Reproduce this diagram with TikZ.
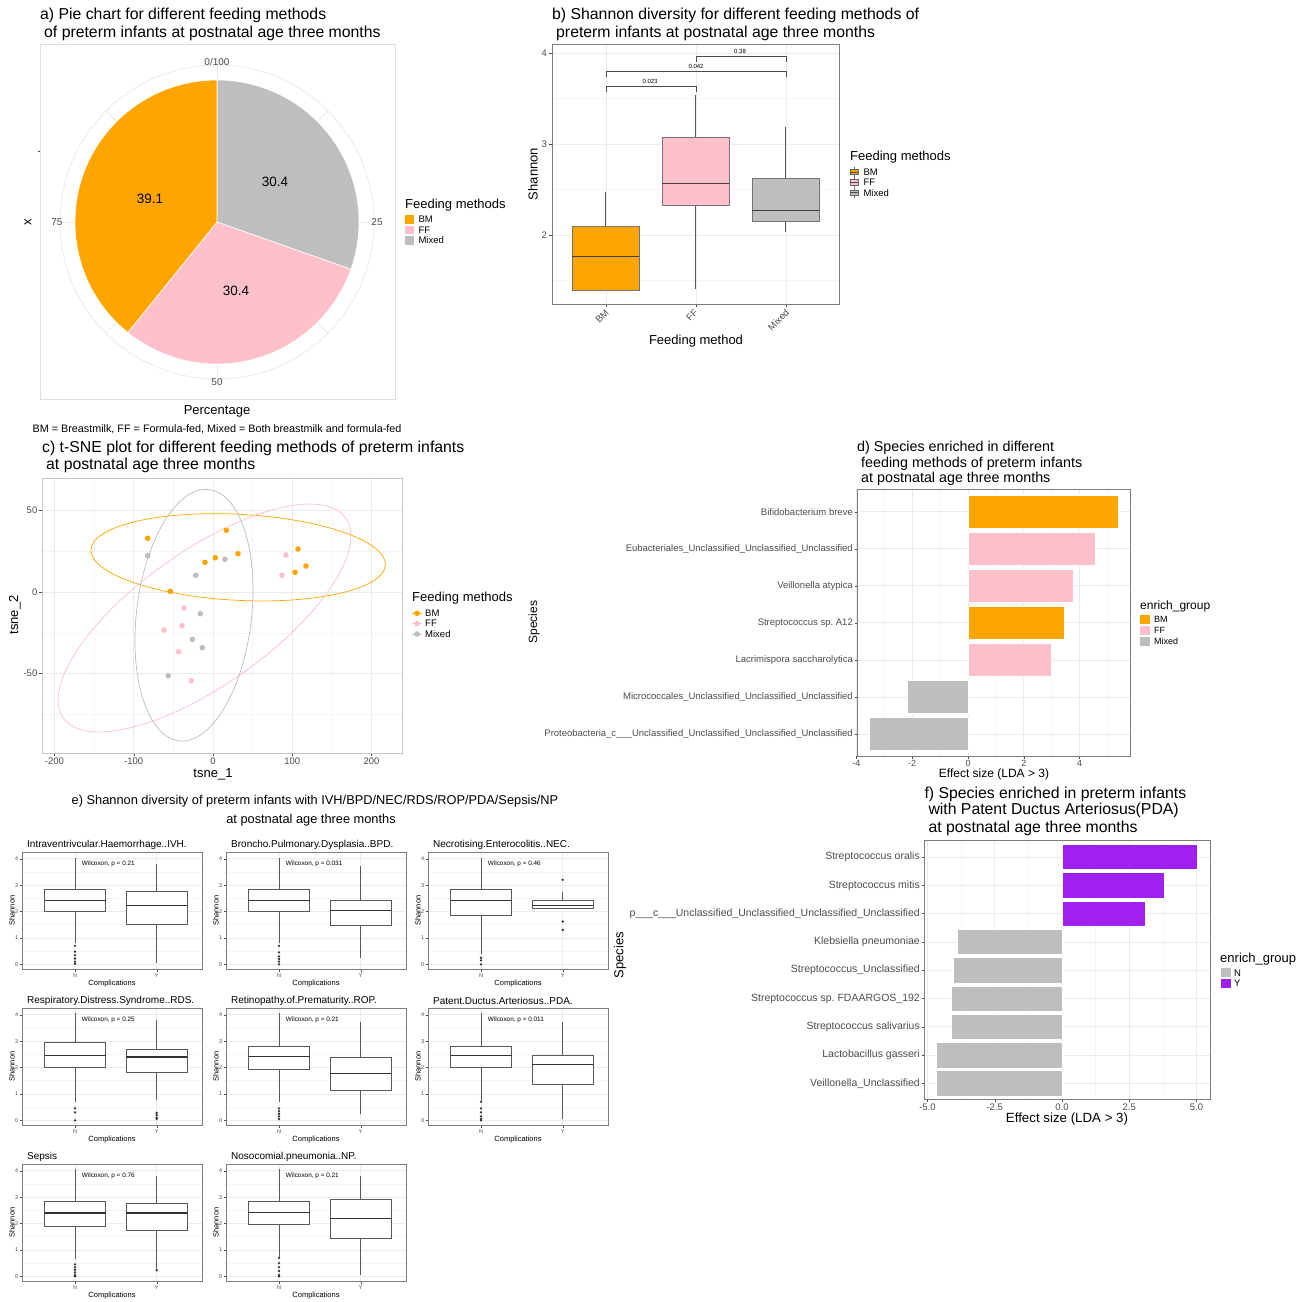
\documentclass[tikz,border=0pt]{standalone}
\usepackage{fontspec}
\setmainfont{Liberation Sans}
\usetikzlibrary{calc}
\definecolor{bmorange}{RGB}{255,165,0}
\definecolor{ffpink}{RGB}{255,192,203}
\definecolor{mixgray}{RGB}{190,190,190}
\definecolor{ypurple}{RGB}{160,32,240}
\definecolor{gridgray}{RGB}{235,235,235}
\definecolor{minorgray}{RGB}{245,245,245}
\definecolor{axistext}{RGB}{77,77,77}
\definecolor{framegray}{RGB}{125,125,125}
\newcommand\fsz[1]{\fontsize{#1}{#1}\selectfont}
\newcommand\eplot[5]{%
\begin{scope}[shift={(#1)}]
  \foreach \v in {0.5,1.5,2.5,3.5} \draw[minor] (0,{112.3-26.4*\v}) -- (180,{112.3-26.4*\v});
  \foreach \v in {0,...,4} {
    \draw[major] (0,{112.3-26.4*\v}) -- (180,{112.3-26.4*\v});
    \draw[axistext] (-2.5,{112.3-26.4*\v}) -- (0,{112.3-26.4*\v});
    \node[etick, anchor=east] at (-3.5,{112.3-26.4*\v}) {\v};
  }
  \foreach \cx/\lab in {53/N,134.7/Y} {
    \draw[major] (\cx,0) -- (\cx,117);
    \draw[axistext] (\cx,117) -- (\cx,119.5);
    \node[etick] at (\cx,124) {\lab};
  }
  \foreach \cx/\lo/\qa/\md/\qb/\hi in {#4} {
    \draw[whisk] (\cx,{112.3-26.4*\lo}) -- (\cx,{112.3-26.4*\hi});
    \filldraw[fill=white, draw=black!65, line width=0.7pt] ({\cx-30.5},{112.3-26.4*\qa}) rectangle ({\cx+30.5},{112.3-26.4*\qb});
    \draw[black!80, line width=1.1pt] ({\cx-30.5},{112.3-26.4*\md}) -- ({\cx+30.5},{112.3-26.4*\md});
  }
  \foreach \cx/\v in {#5} \fill[black!80] (\cx,{112.3-26.4*\v}) circle[radius=1.3];
  \draw[frame] (0,0) rectangle (180,117);
  \node[etitle] (etitle) at (5,-7.5) {#2};
  \node[ewil] (ewil) at (59.7,12) {Wilcoxon, p = #3};
  \node[eaxis] (exlab) at (90,132) {Complications};
  \node[eaxis, rotate=90] (eylab) at (-10,58.5) {Shannon};
\end{scope}}

\begin{document}
\begin{tikzpicture}[x=1pt, y=-1pt,
    ttl/.style={anchor=west, inner sep=0, font=\fsz{15.8}},
    subttl/.style={anchor=west, inner sep=0, font=\fsz{14.3}},
    axttl/.style={inner sep=0, font=\fsz{13}},
    tick/.style={inner sep=0, text=axistext, font=\fsz{9}},
    legttl/.style={anchor=west, inner sep=0, font=\fsz{13}},
    legtxt/.style={anchor=west, inner sep=0, font=\fsz{9.5}},
    frame/.style={draw=framegray, line width=0.8pt},
    major/.style={draw=gridgray, line width=0.8pt},
    minor/.style={draw=minorgray, line width=0.5pt},
    whisk/.style={draw=black!65, line width=0.7pt},
    pval/.style={inner sep=0, font=\fsz{6}},
    etitle/.style={anchor=west, inner sep=0, font=\fsz{10}},
    ewil/.style={anchor=west, inner sep=0, font=\fsz{6.4}},
    etick/.style={inner sep=0, text=axistext, font=\fsz{5.5}},
    eaxis/.style={inner sep=0, font=\fsz{7.5}},
    splab/.style={anchor=east, inner sep=0, text=axistext, font=\fsz{#1}},
    slice/.style={draw=white, line width=0.6pt}
]
\useasboundingbox (0,0) rectangle (1311,1301);
\fill[white] (0,0) rectangle (1311,1301);

\node[ttl] (ttlA) at (40,15) {a) Pie chart for different feeding methods};
\node[ttl] (ttlA2) at (44,33) {of preterm infants at postnatal age three months};
\draw[draw=gray!25, line width=0.8pt] (40,44) rectangle (395,399);
\coordinate (pieO) at (217,222);
\begin{scope}[shift={(pieO)}, y=1pt]
  \foreach \a in {0,45,...,315} \draw[major] (0,0) -- (\a:157);
  \draw[major] (0,0) circle[radius=157];
  \filldraw[fill=mixgray, slice] (0,0) -- (90:142) arc[start angle=90, end angle=-19.44, radius=142] -- cycle;
  \filldraw[fill=ffpink, slice] (0,0) -- (-19.44:142) arc[start angle=-19.44, end angle=-128.88, radius=142] -- cycle;
  \filldraw[fill=bmorange, slice] (0,0) -- (-128.88:142) arc[start angle=-128.88, end angle=-270, radius=142] -- cycle;
\end{scope}
\node[inner sep=0, font=\fsz{13.5}] (pctBM) at (150,199) {39.1};
\node[inner sep=0, font=\fsz{13.5}] (pctMix) at (275,182) {30.4};
\node[inner sep=0, font=\fsz{13.5}] (pctFF) at (236,291) {30.4};
\node[tick, font=\fsz{10}] (th0) at (217,62) {0/100};
\node[tick, font=\fsz{10}] (th25) at (377,222) {25};
\node[tick, font=\fsz{10}] (th50) at (217,382) {50};
\node[tick, font=\fsz{10}] (th75) at (57,222) {75};
\draw[axistext] (37.5,151) -- (40,151);
\node[axttl, rotate=90] (xlabA) at (28,222) {x};
\node[axttl] (pctlab) at (217,411) {Percentage};
\node[inner sep=0, font=\fsz{10.8}] (note) at (217,429) {BM = Breastmilk, FF = Formula-fed, Mixed = Both breastmilk and formula-fed};
\node[legttl] (legA) at (405,205) {Feeding methods};
\foreach \yy/\col/\lab in {219.7/bmorange/BM, 230/ffpink/FF, 240.3/mixgray/Mixed} {
  \fill[\col] (405,\yy-4.3) rectangle (414.3,\yy+4.3);
  \node[legtxt] at (418.3,\yy) {\lab};
}

\node[ttl] (ttlB) at (552,15) {b) Shannon diversity for different feeding methods of};
\node[ttl] (ttlB2) at (556,33) {preterm infants at postnatal age three months};
\foreach \v in {1.5,2.5,3.5} \draw[minor] (552,{417-91*\v}) -- (839,{417-91*\v});
\foreach \v in {2,3,4} {
  \draw[major] (552,{417-91*\v}) -- (839,{417-91*\v});
  \draw[axistext] (549,{417-91*\v}) -- (552,{417-91*\v});
  \node[tick, anchor=east, font=\fsz{9.5}] at (547,{417-91*\v}) {\v};
}
\foreach \cx in {606,696,786} {
  \draw[major] (\cx,44) -- (\cx,304);
  \draw[axistext] (\cx,304) -- (\cx,307);
}
\foreach \cx/\lo/\qa/\md/\qb/\hi/\col in {605.5/1.38/1.39/1.76/2.1/2.47/bmorange, 695.5/1.41/2.32/2.57/3.07/3.54/ffpink, 785.5/2.03/2.15/2.27/2.62/3.19/mixgray} {
  \draw[whisk] (\cx,{417-91*\lo}) -- (\cx,{417-91*\hi});
  \filldraw[fill=\col, draw=black!55, line width=0.8pt] ({\cx-33.5},{417-91*\qa}) rectangle ({\cx+33.5},{417-91*\qb});
  \draw[black!75, line width=1.1pt] ({\cx-33.5},{417-91*\md}) -- ({\cx+33.5},{417-91*\md});
}
\draw[black!70, line width=0.7pt] (606,91.5) -- (606,86) -- (696,86) -- (696,91.5);
\draw[black!70, line width=0.7pt] (606,76.5) -- (606,71) -- (786,71) -- (786,76.5);
\draw[black!70, line width=0.7pt] (696,61.5) -- (696,56) -- (786,56) -- (786,61.5);
\node[pval] (p023) at (650,81) {0.023};
\node[pval] (p042) at (696,66) {0.042};
\node[pval] (p38) at (740,51) {0.38};
\draw[frame] (552,44) rectangle (839,304);
\node[tick, rotate=45, font=\fsz{9.5}] (xbBM) at (602,316.5) {BM};
\node[tick, rotate=45, font=\fsz{9.5}] (xbFF) at (692,315) {FF};
\node[tick, rotate=45, font=\fsz{9.5}] (xbMix) at (778.5,320) {Mixed};
\node[axttl, rotate=90] (ylabB) at (533,174) {Shannon};
\node[axttl] (xlabB) at (696,341) {Feeding method};
\node[legttl] (legB) at (850,157) {Feeding methods};
\foreach \yy/\col/\lab in {172/bmorange/BM, 182.3/ffpink/FF, 192.7/mixgray/Mixed} {
  \draw[black!60, line width=0.5pt] (854,\yy-5) -- (854,\yy+5);
  \filldraw[fill=\col, draw=black!60, line width=0.5pt] (850,\yy-2.7) rectangle (858.3,\yy+2.7);
  \draw[black!70, line width=0.6pt] (850,\yy) -- (858.3,\yy);
  \node[legtxt] at (863.3,\yy) {\lab};
}

\node[ttl] (ttlC) at (42,448) {c) t-SNE plot for different feeding methods of preterm infants};
\node[ttl] (ttlC2) at (46,465) {at postnatal age three months};
\foreach \t in {-150,-50,50,150} \draw[minor] ({213+0.7925*\t},478) -- ({213+0.7925*\t},753);
\foreach \t in {-75,-25,25} \draw[minor] (42,{592-1.633*\t}) -- (402,{592-1.633*\t});
\foreach \t in {-200,-100,0,100,200} {
  \draw[major] ({213+0.7925*\t},478) -- ({213+0.7925*\t},753);
  \draw[axistext] ({213+0.7925*\t},753) -- ({213+0.7925*\t},756);
  \node[tick, font=\fsz{9.5}] at ({213+0.7925*\t},761.5) {\t};
}
\foreach \t in {-50,0,50} {
  \draw[major] (42,{592-1.633*\t}) -- (402,{592-1.633*\t});
  \draw[axistext] (39,{592-1.633*\t}) -- (42,{592-1.633*\t});
  \node[tick, anchor=east, font=\fsz{9.5}] at (37.5,{592-1.633*\t}) {\t};
}
\draw[bmorange, line width=0.7pt, rotate around={-3:(238.2,557.3)}] (238.2,557.3) ellipse[x radius=147.4, y radius=43];
\draw[ffpink, line width=0.7pt, rotate around={35.3:(204.5,618)}] (204.5,618) ellipse[x radius=173, y radius=67];
\draw[mixgray, line width=0.7pt, rotate around={-6.8:(194,615.2)}] (194,615.2) ellipse[x radius=57.5, y radius=126.5];
\foreach \px/\py in {147.7/538.3, 226.3/530.3, 238/553.7, 215.3/557.7, 205/562.3, 170.3/591.3, 298/549, 306/566, 295/572.3}
  \fill[bmorange] (\px,\py) circle[radius=2.8];
\foreach \px/\py in {286/555, 282/575.3, 184/608, 164/630, 182/625.7, 178.7/651.7, 191.3/680.7}
  \fill[ffpink] (\px,\py) circle[radius=2.8];
\foreach \px/\py in {147.7/555.7, 225/559.3, 195.7/575.3, 200.3/613.7, 192.3/639.3, 202.3/647.7, 168.3/675.7}
  \fill[mixgray] (\px,\py) circle[radius=2.8];
\draw[frame, draw=gray!45] (42,478) rectangle (402,753);
\node[axttl] (xlabC) at (213,774) {tsne\_1};
\node[axttl, rotate=90] (ylabC) at (15,615) {tsne\_2};
\node[legttl] (legC) at (412,598.3) {Feeding methods};
\foreach \yy/\col/\lab in {613.3/bmorange/BM, 623.7/ffpink/FF, 634/mixgray/Mixed} {
  \draw[\col, line width=0.7pt] (412,\yy) -- (422,\yy);
  \fill[\col] (417,\yy) circle[radius=2.8];
  \node[legtxt] at (425,\yy) {\lab};
}

\node[subttl] (ttlD) at (857,447.7) {d) Species enriched in different};
\node[subttl] (ttlD2) at (861,463.3) {feeding methods of preterm infants};
\node[subttl] (ttlD3) at (861,478.5) {at postnatal age three months};
\foreach \v in {-3,-1,1,3,5} \draw[minor] ({968+27.9*\v},489) -- ({968+27.9*\v},756);
\foreach \v in {-4,-2,0,2,4} {
  \draw[major] ({968+27.9*\v},489) -- ({968+27.9*\v},756);
  \draw[axistext] ({968+27.9*\v},756) -- ({968+27.9*\v},759);
  \node[tick] at ({968+27.9*\v},763) {\v};
}
\foreach \k/\sp/\val/\col in {
  0/Bifidobacterium breve/5.38/bmorange,
  1/Eubacteriales\_Unclassified\_Unclassified\_Unclassified/4.55/ffpink,
  2/Veillonella atypica/3.76/ffpink,
  3/Streptococcus sp.\ A12/3.44/bmorange,
  4/Lacrimispora saccharolytica/2.98/ffpink,
  5/Micrococcales\_Unclassified\_Unclassified\_Unclassified/-2.19/mixgray,
  6/Proteobacteria\_c\_\_\_Unclassified\_Unclassified\_Unclassified\_Unclassified/-3.55/mixgray} {
  \draw[major] (857,{511.7+37.05*\k}) -- (1130,{511.7+37.05*\k});
  \filldraw[fill=\col, draw=white, line width=0.5pt] (968,{511.7+37.05*\k-16.6}) rectangle ({968+27.9*\val},{511.7+37.05*\k+16.6});
  \draw[axistext] (854.5,{511.7+37.05*\k}) -- (857,{511.7+37.05*\k});
  \node[splab=9.5] at (853,{511.7+37.05*\k}) {\sp};
}
\draw[frame] (857,489) rectangle (1130,756);
\node[axttl, font=\fsz{12}] (xlabD) at (994,774) {Effect size (LDA > 3)};
\node[axttl, font=\fsz{12}, rotate=90] (ylabD) at (534,622) {Species};
\node[legttl, font=\fsz{12}] (legD) at (1140,606.7) {enrich\_group};
\foreach \yy/\col/\lab in {619.5/bmorange/BM, 630.2/ffpink/FF, 641/mixgray/Mixed} {
  \fill[\col] (1140,\yy-4.5) rectangle (1150,\yy+4.5);
  \node[legtxt, font=\fsz{9}] at (1154,\yy) {\lab};
}

\node[inner sep=0, font=\fsz{12.8}] (ttlE) at (315,801) {e) Shannon diversity of preterm infants with IVH/BPD/NEC/RDS/ROP/PDA/Sepsis/NP};
\node[inner sep=0, font=\fsz{12.8}] (ttlE2) at (311,820) {at postnatal age three months};
\eplot{22,852}{Intraventrivcular.Haemorrhage..IVH.}{0.21}{53/0.8/2.0/2.42/2.83/4.02, 134.7/0.05/1.52/2.22/2.75/3.8}{53/0.7, 53/0.48, 53/0.35, 53/0.22, 53/0.1, 53/0.02}
\eplot{226,852}{Broncho.Pulmonary.Dysplasia..BPD.}{0.031}{53/0.8/2.0/2.43/2.83/4.02, 134.7/0.25/1.48/2.03/2.42/3.73}{53/0.7, 53/0.45, 53/0.3, 53/0.2, 53/0.1, 53/0.0}
\eplot{428,852}{Necrotising.Enterocolitis..NEC.}{0.46}{53/0.4/1.87/2.42/2.83/4.02, 134.7/2.1/2.12/2.22/2.43/2.75}{53/0.25, 53/0.15, 53/0.0, 134.7/3.2, 134.7/1.62, 134.7/1.3}
\eplot{22,1008}{Respiratory.Distress.Syndrome..RDS.}{0.25}{53/0.7/2.0/2.45/2.95/4.05, 134.7/0.78/1.8/2.4/2.67/3.8}{53/0.45, 53/0.3, 53/0.0, 134.7/0.28, 134.7/0.2, 134.7/0.1, 134.7/0.05}
\eplot{226,1008}{Retinopathy.of.Prematurity..ROP.}{0.21}{53/0.7/1.92/2.42/2.82/4.05, 134.7/0.25/1.15/1.78/2.4/3.72}{53/0.45, 53/0.35, 53/0.25, 53/0.15, 53/0.05}
\eplot{428,1008}{Patent.Ductus.Arteriosus..PDA.}{0.011}{53/0.75/2.02/2.47/2.82/4.05, 134.7/0.05/1.35/2.1/2.45/3.72}{53/0.7, 53/0.45, 53/0.3, 53/0.15, 53/0.05, 53/0.0}
\eplot{22,1164}{Sepsis}{0.76}{53/0.65/1.9/2.4/2.83/4.05, 134.7/0.25/1.75/2.4/2.77/3.8}{53/0.45, 53/0.35, 53/0.25, 53/0.15, 53/0.05, 53/0.0, 134.7/0.23}
\eplot{226,1164}{Nosocomial.pneumonia..NP.}{0.21}{53/0.75/1.97/2.42/2.83/4.05, 134.7/0.05/1.45/2.2/2.9/3.8}{53/0.7, 53/0.5, 53/0.35, 53/0.2, 53/0.05, 53/0.0}

\node[ttl] (ttlF) at (924.3,794) {f) Species enriched in preterm infants};
\node[ttl] (ttlF2) at (928.3,810.7) {with Patent Ductus Arteriosus(PDA)};
\node[ttl] (ttlF3) at (928.3,828.3) {at postnatal age three months};
\foreach \v in {-3.75,-1.25,1.25,3.75} \draw[minor] ({1062+26.9*\v},840) -- ({1062+26.9*\v},1099);
\foreach \v/\lab in {-5/-5.0, -2.5/-2.5, 0/0.0, 2.5/2.5, 5/5.0} {
  \draw[major] ({1062+26.9*\v},840) -- ({1062+26.9*\v},1099);
  \draw[axistext] ({1062+26.9*\v},1099) -- ({1062+26.9*\v},1102);
  \node[tick, font=\fsz{9.5}] at ({1062+26.9*\v},1107) {\lab};
}
\foreach \k/\sp/\val/\col in {
  0/Streptococcus oralis/5.02/ypurple,
  1/Streptococcus mitis/3.79/ypurple,
  2/p\_\_\_c\_\_\_Unclassified\_Unclassified\_Unclassified\_Unclassified/3.1/ypurple,
  3/Klebsiella pneumoniae/-3.9/mixgray,
  4/Streptococcus\_Unclassified/-4.03/mixgray,
  5/Streptococcus sp.\ FDAARGOS\_192/-4.12/mixgray,
  6/Streptococcus salivarius/-4.12/mixgray,
  7/Lactobacillus gasseri/-4.66/mixgray,
  8/Veillonella\_Unclassified/-4.66/mixgray} {
  \draw[major] (924,{857+28.3*\k}) -- (1210,{857+28.3*\k});
  \filldraw[fill=\col, draw=white, line width=0.5pt] (1062,{857+28.3*\k-12.7}) rectangle ({1062+26.9*\val},{857+28.3*\k+12.7});
  \draw[axistext] (921.5,{857+28.3*\k}) -- (924,{857+28.3*\k});
  \node[splab=10.5] at (920,{857+28.3*\k}) {\sp};
}
\draw[frame] (924,840) rectangle (1210,1099);
\node[axttl, font=\fsz{13.3}] (xlabF) at (1067,1119) {Effect size (LDA > 3)};
\node[axttl, rotate=90] (ylabF) at (620,955) {Species};
\node[legttl] (legF) at (1220,959) {enrich\_group};
\foreach \yy/\col/\lab in {972.8/mixgray/N, 983.2/ypurple/Y} {
  \fill[\col] (1220.6,\yy-4.5) rectangle (1230.5,\yy+4.5);
  \node[legtxt] at (1234,\yy) {\lab};
}
\end{tikzpicture}
\end{document}
